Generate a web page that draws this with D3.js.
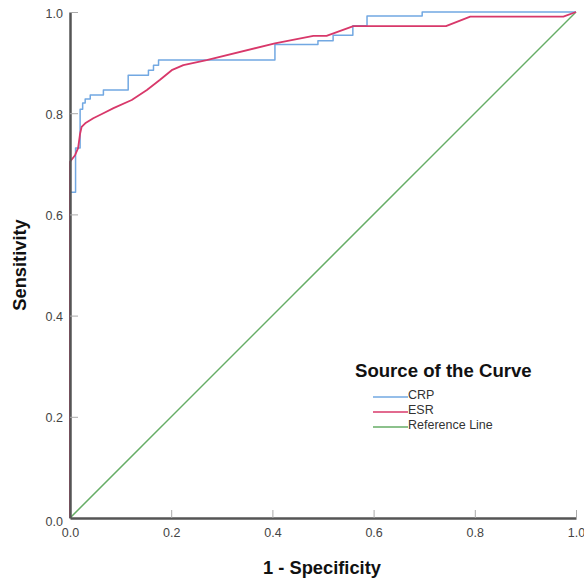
<!DOCTYPE html>
<html>
<head>
<meta charset="utf-8">
<script src="https://cdn.jsdelivr.net/npm/d3@7"></script>
<style>
  body { margin: 0; background: #fff; }
  text { font-family: "Liberation Sans", Arial, sans-serif; }
</style>
</head>
<body>
<div id="chart-area"></div>
<script>
// ROC curves
var crpFpr = [0, 0, 0.011, 0.011, 0.020, 0.020, 0.025, 0.025, 0.030, 0.030, 0.040, 0.040, 0.066, 0.066,
    0.115, 0.115, 0.155, 0.155, 0.165, 0.165, 0.175, 0.175, 0.405, 0.405, 0.490, 0.490, 0.520, 0.520,
    0.559, 0.559, 0.587, 0.587, 0.696, 0.696, 1];
var crpTpr = [0, 0.644, 0.644, 0.731, 0.731, 0.808, 0.808, 0.820, 0.820, 0.828, 0.828, 0.836, 0.836, 0.846,
    0.846, 0.875, 0.875, 0.885, 0.885, 0.895, 0.895, 0.905, 0.905, 0.936, 0.936, 0.943, 0.943, 0.954,
    0.954, 0.973, 0.973, 0.992, 0.992, 1, 1];

var esrFpr = [0, 0, 0.010, 0.016, 0.020, 0.023, 0.030, 0.046, 0.066, 0.086, 0.122, 0.152, 0.178, 0.201,
    0.224, 0.270, 0.405, 0.481, 0.507, 0.560, 0.743, 0.791, 0.975, 1];
var esrTpr = [0, 0.704, 0.717, 0.731, 0.760, 0.773, 0.780, 0.790, 0.800, 0.810, 0.826, 0.846, 0.866, 0.885,
    0.895, 0.905, 0.938, 0.953, 0.953, 0.972, 0.972, 0.991, 0.991, 1];

var refFpr = [0, 1];
var refTpr = [0, 1];

var seriesNames = ["CRP", "ESR", "Reference Line"];
var seriesColors = ["#72a8e2", "#d8386a", "#66ad66"];
var tickValues = [0, 0.2, 0.4, 0.6, 0.8, 1.0];

var margin = { left: 70, right: 8, top: 12, bottom: 61 };
var width = 506, height = 506;

var svg = d3.select("#chart-area").append("svg")
    .attr("width", 584)
    .attr("height", 579);

var g = svg.append("g")
    .attr("transform", "translate(" + margin.left + ", " + margin.top + ")");

var x = d3.scaleLinear().domain([0, 1]).range([0, width]);
var y = d3.scaleLinear().domain([0, 1]).range([height, 0]);

var bottomAxis = d3.axisBottom(x)
    .tickValues(tickValues)
    .tickFormat(d3.format(".1f"))
    .tickSizeInner(-8)
    .tickSizeOuter(0)
    .tickPadding(10);

var leftAxis = d3.axisLeft(y)
    .tickValues(tickValues)
    .tickFormat(d3.format(".1f"))
    .tickSizeInner(-8)
    .tickSizeOuter(0)
    .tickPadding(7);

function styleAxis(sel) {
    sel.select(".domain").attr("stroke", "#555").attr("stroke-width", 2.5);
    sel.selectAll(".tick line").attr("stroke", "#aaa").attr("stroke-width", 1);
    sel.selectAll(".tick text")
        .attr("fill", "#444")
        .attr("font-size", "12.5px")
        .attr("font-family", "Liberation Sans, Arial, sans-serif");
}

var xg = g.append("g")
    .attr("class", "bottom axis")
    .attr("transform", "translate(0, " + height + ")")
    .call(bottomAxis)
    .call(styleAxis);

var yg = g.append("g")
    .attr("class", "left axis")
    .call(leftAxis)
    .call(styleAxis);

yg.selectAll(".tick text").attr("dy", (d) => { return d === 0 ? "0.6em" : "0.4em"; });
yg.selectAll(".tick").filter((d) => { return d === 0; }).select("line").remove();

var line = d3.line()
    .x((d) => { return x(d[0]); })
    .y((d) => { return y(d[1]); });

var curves = [
    d3.zip(crpFpr, crpTpr),
    d3.zip(esrFpr, esrTpr),
    d3.zip(refFpr, refTpr)
];

g.selectAll("path.curve")
    .data([curves[2], curves[0], curves[1]])
    .enter()
    .append("path")
        .attr("class", "curve")
        .attr("d", line)
        .attr("fill", "none")
        .attr("stroke", (d, i) => { return [seriesColors[2], seriesColors[0], seriesColors[1]][i]; })
        .attr("stroke-width", (d, i) => { return i === 2 ? 1.8 : 1.5; })
        .attr("stroke-linejoin", "round");

// y axis line sits on top of the curves
g.node().appendChild(yg.node());

// axis titles
g.append("text")
    .attr("x", width / 2 - 1)
    .attr("y", height + 56)
    .attr("font-size", "18.3px")
    .attr("font-weight", "bold")
    .attr("text-anchor", "middle")
    .attr("fill", "#111")
    .text("1 - Specificity");

g.append("text")
    .attr("transform", "rotate(-90)")
    .attr("x", -(265 - margin.top))
    .attr("y", -44)
    .attr("font-size", "18.3px")
    .attr("font-weight", "bold")
    .attr("text-anchor", "middle")
    .attr("fill", "#111")
    .text("Sensitivity");

// legend
var legend = svg.append("g").attr("transform", "translate(355, 377)");

legend.append("text")
    .attr("x", 0)
    .attr("y", 0)
    .attr("font-size", "18.6px")
    .attr("font-weight", "bold")
    .attr("fill", "#111")
    .text("Source of the Curve");

var items = legend.selectAll("g.item")
    .data(seriesNames)
    .enter()
    .append("g")
        .attr("class", "item")
        .attr("transform", (d, i) => { return "translate(0, " + (22 + i * 15) + ")"; });

items.append("line")
    .attr("x1", 18)
    .attr("x2", 53)
    .attr("y1", -2)
    .attr("y2", -2)
    .attr("stroke", (d, i) => { return seriesColors[i]; })
    .attr("stroke-width", 1.5);

items.append("text")
    .attr("x", 53)
    .attr("y", 0)
    .attr("font-size", "12.5px")
    .attr("fill", "#333")
    .text((d) => { return d; });
</script>
</body>
</html>
